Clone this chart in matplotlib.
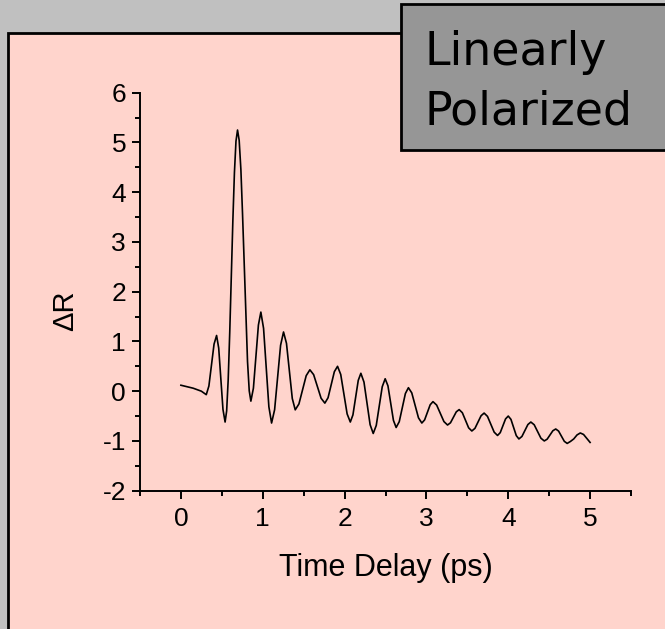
import numpy as np
from matplotlib import pyplot as plt
from matplotlib.patches import Rectangle
from matplotlib.ticker import MultipleLocator

plt.rcParams['axes.unicode_minus'] = False

# values (time delay in ps, delta R)
t_ps = [0.00, 0.05, 0.10, 0.15, 0.20, 0.25, 0.31,
        0.342, 0.373, 0.405, 0.436,
        0.462, 0.488, 0.514, 0.540,
        0.559, 0.578, 0.597, 0.616, 0.635, 0.654, 0.673, 0.692,
        0.712, 0.733, 0.753, 0.774, 0.794, 0.814, 0.835, 0.855,
        0.886, 0.916, 0.947, 0.977,
        1.010, 1.043, 1.075, 1.108,
        1.145, 1.181, 1.218, 1.254,
        1.290, 1.326, 1.361, 1.397,
        1.442, 1.487, 1.531, 1.576,
        1.622, 1.668, 1.713, 1.759,
        1.798, 1.837, 1.875, 1.914,
        1.953, 1.992, 2.031, 2.070,
        2.102, 2.135, 2.167, 2.199,
        2.237, 2.275, 2.312, 2.350,
        2.387, 2.423, 2.460, 2.496,
        2.530, 2.563, 2.597, 2.630,
        2.668, 2.705, 2.743, 2.780,
        2.821, 2.862, 2.903, 2.944,
        2.978, 3.012, 3.046, 3.080,
        3.125, 3.169, 3.214, 3.258,
        3.294, 3.329, 3.365, 3.400,
        3.439, 3.478, 3.516, 3.555,
        3.593, 3.630, 3.668, 3.705,
        3.746, 3.787, 3.828, 3.869,
        3.902, 3.935, 3.967, 4.000,
        4.033, 4.065, 4.098, 4.130,
        4.167, 4.203, 4.240, 4.276,
        4.317, 4.358, 4.399, 4.440,
        4.475, 4.510, 4.545, 4.580,
        4.615, 4.650, 4.685, 4.720,
        4.76, 4.80, 4.84, 4.88, 4.92, 4.96, 5.00]
dR = [0.12, 0.10, 0.08, 0.06, 0.03, 0.00, -0.07,
      0.104, 0.525, 0.946, 1.12,
      0.866, 0.25, -0.366, -0.62,
      -0.397, 0.237, 1.194, 2.315, 3.436, 4.393, 5.027, 5.25,
      5.043, 4.454, 3.566, 2.525, 1.484, 0.596, 0.007, -0.20,
      0.061, 0.695, 1.329, 1.59,
      1.264, 0.475, -0.314, -0.64,
      -0.373, 0.275, 0.923, 1.19,
      0.962, 0.408, -0.147, -0.375,
      -0.257, 0.028, 0.312, 0.43,
      0.332, 0.095, -0.142, -0.24,
      -0.132, 0.13, 0.392, 0.50,
      0.336, -0.06, -0.456, -0.62,
      -0.477, -0.13, 0.217, 0.36,
      0.183, -0.245, -0.673, -0.85,
      -0.689, -0.30, 0.089, 0.25,
      0.107, -0.24, -0.587, -0.73,
      -0.613, -0.33, -0.047, 0.07,
      -0.034, -0.285, -0.536, -0.64,
      -0.577, -0.425, -0.273, -0.21,
      -0.279, -0.445, -0.611, -0.68,
      -0.635, -0.525, -0.415, -0.37,
      -0.433, -0.585, -0.737, -0.80,
      -0.747, -0.62, -0.493, -0.44,
      -0.506, -0.665, -0.824, -0.89,
      -0.833, -0.695, -0.557, -0.50,
      -0.567, -0.73, -0.893, -0.96,
      -0.91, -0.79, -0.67, -0.62,
      -0.675, -0.81, -0.945, -1.00,
      -0.965, -0.88, -0.795, -0.76,
      -0.802, -0.905, -1.008, -1.05,
      -1.01, -0.96, -0.88, -0.84, -0.87, -0.95, -1.03]

x_ticks = [0, 1, 2, 3, 4, 5]
y_ticks = [-2, -1, 0, 1, 2, 3, 4, 5, 6]

fig = plt.figure(figsize=(6.65, 6.29), dpi=100, facecolor='#c0c0c0')

# pink slide panel with black left/top edge
fig.patches.append(Rectangle((0.0125, -0.02), 1.1, 0.9675, transform=fig.transFigure,
                             facecolor='#ffd4cc', edgecolor='black', lw=2.0, zorder=-1))
# grey title box
fig.patches.append(Rectangle((0.603, 0.7615), 0.5, 0.232, transform=fig.transFigure,
                             facecolor='#969696', edgecolor='black', lw=2.0, zorder=2))
fig.text(0.639, 0.8967, 'Linearly', fontsize=33, family='DejaVu Sans', va='baseline', zorder=3)
fig.text(0.639, 0.8013, 'Polarized', fontsize=33, family='DejaVu Sans', va='baseline', zorder=3)

ax = fig.add_axes([0.2105, 0.2199, 0.7384, 0.6327])
ax.set_facecolor('none')
ax.plot(t_ps, dR, color='black', lw=1.2)

ax.set_xlim(-0.5, 5.5)
ax.set_ylim(-2, 6)
ax.set_xticks(x_ticks)
ax.set_yticks(y_ticks)
ax.xaxis.set_minor_locator(MultipleLocator(0.5))
ax.yaxis.set_minor_locator(MultipleLocator(0.5))
for s in ['top', 'right']:
    ax.spines[s].set_visible(False)
for s in ['left', 'bottom']:
    ax.spines[s].set_linewidth(1.4)
ax.tick_params(which='major', length=6, width=1.4, direction='out')
ax.tick_params(which='minor', length=3.5, width=1.4, direction='out')
ax.tick_params(axis='y', which='major', pad=4)
ax.tick_params(axis='x', which='major', pad=6)
for lab in ax.get_xticklabels() + ax.get_yticklabels():
    lab.set_fontfamily('Liberation Sans')
    lab.set_fontsize(19)

ax.set_xlabel('Time Delay (ps)', fontsize=22, family='Liberation Sans')
ax.set_ylabel('\u0394R', fontsize=21, family='Liberation Sans')
ax.xaxis.set_label_coords(0.5, -0.194)
ax.xaxis.label.set_va('center')
ax.yaxis.set_label_coords(-0.153, 0.4515)
ax.yaxis.label.set_va('center')

plt.savefig('out.png', dpi=100, facecolor=fig.get_facecolor())
